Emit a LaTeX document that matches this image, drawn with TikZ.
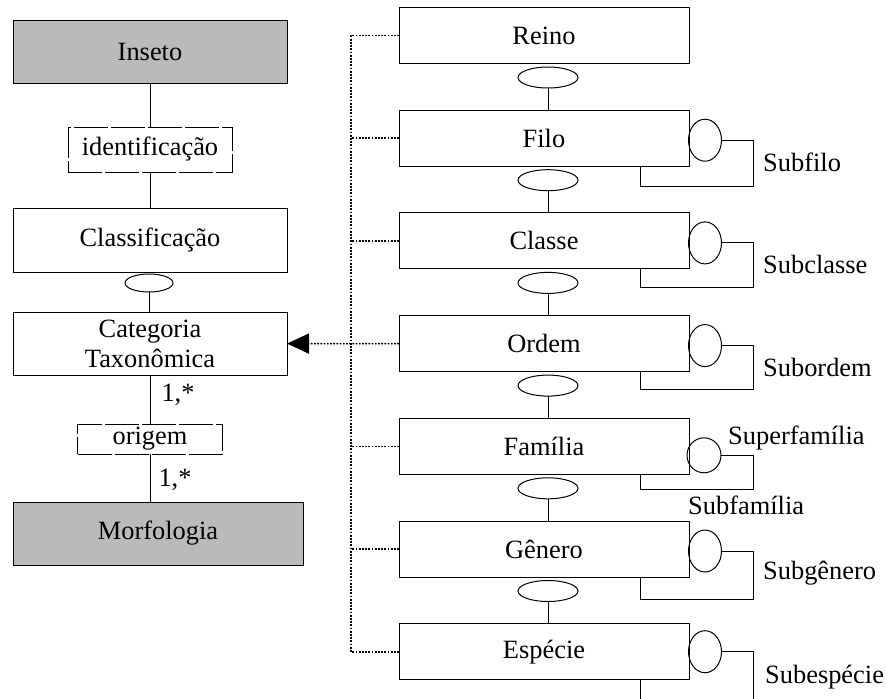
\documentclass[tikz,border=0pt]{standalone}
\usepackage{fontspec}
\setmainfont{Liberation Serif}
\usetikzlibrary{shapes.geometric,arrows.meta}
\tikzset{
  entidade/.style={draw, line width=1pt, inner sep=0pt, outer sep=0pt, minimum width=274pt, minimum height=63pt, align=center},
  taxon/.style={entidade, minimum width=290pt, minimum height=56pt},
  assoc/.style={draw, line width=0.9pt, dash pattern=on 34pt off 3pt, inner sep=0pt, outer sep=0pt},
  agreg/.style={draw, ellipse, line width=1pt, inner sep=0pt, outer sep=0pt, minimum width=60pt, minimum height=21pt},
  recur/.style={draw, ellipse, line width=1pt, inner sep=0pt, outer sep=0pt, minimum width=33pt, minimum height=42pt},
  linha/.style={line width=1pt},
  heranca/.style={line width=1.6pt, dash pattern=on 1.8pt off 1.4pt},
  rotulo/.style={anchor=west, inner sep=0pt},
}
\begin{document}
\begin{tikzpicture}[x=1pt, y=-1pt, font=\fontsize{26.4}{30}\selectfont]
  \useasboundingbox (0,0) rectangle (887,699);
  % lado esquerdo
  \node[entidade, fill=black!27] (inseto) at (150,51.5) {Inseto};
  \node[assoc, minimum width=164pt, minimum height=45pt] (ident) at (150,149.5) {identificação};
  \node[entidade, minimum height=64pt] (classif) at (150,240) {Classificação};
  \node[agreg, minimum width=48pt, minimum height=18pt] (agclassif) at (149,283) {};
  \node[entidade] (categoria) at (150,343.6) {Categoria\\Taxonômica};
  \node[assoc, minimum width=145pt, minimum height=30pt] (origem) at (150,439) {origem};
  \node[entidade, fill=black!27, minimum width=290pt] (morfo) at (158,533.5) {Morfologia};
  \draw[linha] (inseto) -- (ident);
  \draw[linha] (ident) -- (classif);
  \draw[linha] (agclassif) -- (agclassif |- categoria.north);
  \draw[linha] (categoria) -- (origem) node[pos=0.4, right=11pt, inner sep=0pt] {1,*};
  \draw[linha] (origem.south) -- (origem.south |- morfo.north) node[pos=0.54, right=8pt, inner sep=0pt] {1,*};
  % hierarquia taxonomica
  \foreach \nome/\texto [count=\i from 0] in {reino/Reino, filo/Filo, classe/Classe, ordem/Ordem, familia/Família, genero/Gênero, especie/Espécie}
    \node[taxon] (\nome) at (544,35.5+102.7*\i) {\texto};
  \foreach \a/\b in {reino/filo, filo/classe, classe/ordem, ordem/familia, familia/genero, genero/especie} {
    \node[agreg] (ag\a) at ([shift={(4,14)}]\a.south) {};
    \draw[linha] (ag\a) -- (ag\a |- \b.north);
  }
  % auto-relacionamentos
  \foreach \nome/\sub/\dy in {filo/Subfilo/20, classe/Subclasse/19, ordem/Subordem/18, genero/Subgênero/22} {
    \node[recur] (rec\nome) at ([shift={(161,2)}]\nome.center) {};
    \draw[linha] (rec\nome.east) -- ++(32,0) |- ([shift={(96,\dy)}]\nome.south) -- ([xshift=96pt]\nome.south);
    \node[rotulo] at ([shift={(219,24)}]\nome.center) {\sub};
  }
  \node[recur, minimum width=34pt, minimum height=35pt] (recfamilia) at ([shift={(160,9)}]familia.center) {};
  \draw[linha] (recfamilia.east) -- ++(32,0) |- ([shift={(96,15)}]familia.south) -- ([xshift=96pt]familia.south);
  \node[rotulo] at (728,438) {Superfamília};
  \node[rotulo] at (688,505) {Subfamília};
  \node[recur] (recespecie) at ([shift={(161,0)}]especie.center) {};
  \coordinate (fimesp) at (753,699);
  \draw[linha] (recespecie.east) -| (fimesp);
  \draw[linha] ([xshift=96pt]especie.south) -- ([xshift=96pt]especie.south |- fimesp);
  \node[rotulo] at (765,677) {Subespécie};
  % generalizacao
  \coordinate (tronco) at (351,0);
  \draw[heranca] (reino.west) -| (tronco |- especie.west) -- (especie.west);
  \foreach \nome in {filo, classe, familia, genero}
    \draw[heranca] (\nome.west) -- (\nome.west -| tronco);
  \draw[heranca, -{Triangle[length=22pt, width=20pt]}] (ordem.west) -- (categoria.east);
\end{tikzpicture}
\end{document}
